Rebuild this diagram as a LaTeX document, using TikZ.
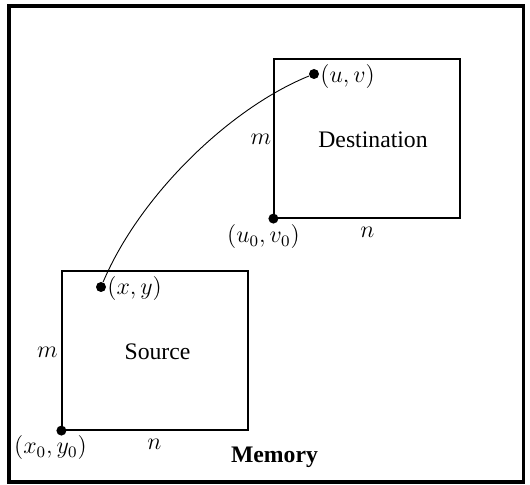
\documentclass[tikz,border=0pt]{standalone}
\usepackage{fontspec}
\setmainfont{Liberation Serif}
\begin{document}
\begin{tikzpicture}[x=0.5pt,y=-0.5pt,
  font=\fontsize{11.85}{14}\selectfont,
  box/.style={draw, line width=0.6pt, minimum width=93pt, minimum height=79.5pt, inner sep=0pt},
  dot/.style={circle, fill, inner sep=0pt, minimum size=5pt},
  lbl/.style={inner sep=0pt},
  frame/.style={line width=1.8pt},
  link/.style={line width=0.45pt}]
\useasboundingbox (0,0) rectangle (530,485);
\draw[frame] (9,6) rectangle (523.5,482);
% boxes
\node[box] (src) at (155,350.5) {};
\node[box] (dst) at (367,138.5) {};
% dots
\node[dot] (x0) at (src.south west) {};
\node[dot] (u0) at (dst.south west) {};
\node[dot] (xy) at (101,287) {};
\node[dot] (uv) at (314,74) {};
% connector
\draw[link] (xy) .. controls (140,195) and (230,108) .. (uv);
% labels
\node[lbl] (srct) at (157.5,351.5) {Source};
\node[lbl] (dstt) at (373,139.5) {Destination};
\node[lbl] (mem) at (274.5,457.5) {\bfseries Memory};
\node[lbl] (x0l) at (50.5,447.5) {$(x_0,y_0)$};
\node[lbl] (u0l) at (263.5,237) {$(u_0,v_0)$};
\node[lbl, anchor=west] (xyl) at (107,289) {$(x,y)$};
\node[lbl, anchor=west] (uvl) at (320,77) {$(u,v)$};
\node[lbl] (ms) at (47.5,352) {$m$};
\node[lbl] (md) at (261,139.5) {$m$};
\node[lbl] (ns) at (154.5,444) {$n$};
\node[lbl] (nd) at (367.5,232) {$n$};
\end{tikzpicture}
\end{document}
